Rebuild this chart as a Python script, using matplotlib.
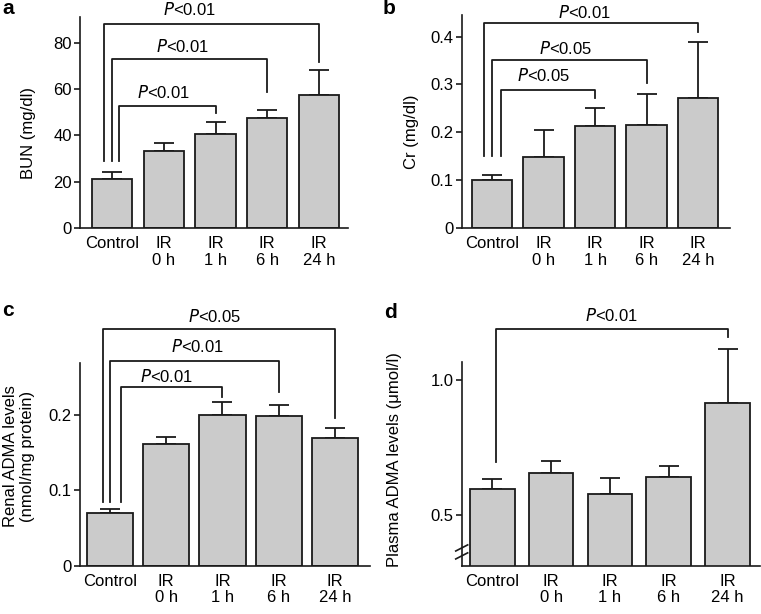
import matplotlib
matplotlib.use('Agg')
import matplotlib.pyplot as plt
import numpy as np

plt.rcParams['font.family'] = ['Liberation Sans', 'DejaVu Sans']
plt.rcParams['font.size'] = 12

W, H = 761, 614

groups = ['Control', 'IR\n0 h', 'IR\n1 h', 'IR\n6 h', 'IR\n24 h']

bun = [21, 33, 40.5, 47.5, 57.5]
bun_err = [3, 3.5, 5, 3.5, 10.5]

cr = [0.100, 0.148, 0.214, 0.215, 0.271]
cr_err = [0.011, 0.057, 0.037, 0.065, 0.118]

renal_adma = [0.070, 0.161, 0.200, 0.198, 0.169]
renal_adma_err = [0.005, 0.009, 0.017, 0.015, 0.013]

plasma_adma = [0.595, 0.655, 0.576, 0.640, 0.916]
plasma_adma_err = [0.037, 0.046, 0.062, 0.043, 0.198]

# significance labels: (target bar, text)
sig_a = [(2, 'P<0.01'), (3, 'P<0.01'), (4, 'P<0.01')]
sig_b = [(2, 'P<0.05'), (3, 'P<0.05'), (4, 'P<0.01')]
sig_c = [(2, 'P<0.01'), (3, 'P<0.01'), (4, 'P<0.05')]
sig_d = [(4, 'P<0.01')]

BAR = '#cbcbcb'
INK = '#1a1a1a'

fig = plt.figure(figsize=(W / 100, H / 100), dpi=100)


def make_axes(left, right, top, bottom):
    # pixel box -> figure fraction
    return fig.add_axes([left / W, 1 - bottom / H, (right - left) / W, (bottom - top) / H])


def draw_panel(ax, vals, errs, xlim, ylim, yticks, ylabels, width=0.78):
    x = np.arange(len(groups))
    ax.bar(x, vals, width=width, color=BAR, edgecolor=INK, linewidth=1.3, zorder=2)
    eb = ax.errorbar(x, vals, yerr=[np.zeros(len(vals)), errs], fmt='none', ecolor=INK,
                     elinewidth=1.3, capsize=7, capthick=1.3, zorder=1)
    for part in eb.get_children():
        part.set_clip_on(False)
    ax.set_xlim(*xlim)
    ax.set_ylim(*ylim)
    ax.set_xticks(x)
    ax.set_xticklabels(groups, linespacing=1.1)
    ax.set_yticks(yticks)
    ax.set_yticklabels(ylabels)
    for s in ['top', 'right']:
        ax.spines[s].set_visible(False)
    for s in ['left', 'bottom']:
        ax.spines[s].set_linewidth(1.2)
        ax.spines[s].set_color(INK)
    ax.tick_params(axis='x', length=0, pad=6, labelsize=12)
    ax.tick_params(axis='y', length=4, width=1.2, pad=2, labelsize=12, color=INK)


def bracket(ax, xl, xr, ytop, ybl, ybr, label, tx, ty):
    ax.plot([xl, xl, xr, xr], [ybl, ytop, ytop, ybr], color=INK, lw=1.3, clip_on=False, zorder=3)
    ax.text(tx, ty, label, ha='center', va='center', fontsize=12, clip_on=False)


def p_text(s):
    return r'$\it{P}$' + s[1:]


# panel a
ax_a = make_axes(80, 348, 17, 228)
draw_panel(ax_a, bun, bun_err, (-0.62, 4.56), (0, 91), [0, 20, 40, 60, 80],
           ['0', '20', '40', '60', '80'])
a_geo = [(0.135, 52.6, 49.4, 1.0, 58.6), (0.0, 73.1, 58.8, 1.37, 78.1), (-0.155, 87.8, 71.7, 1.49, 94.3)]
for (t, lab), (dx, yt, ybr, tx, ty) in zip(sig_a, a_geo):
    bracket(ax_a, dx, t, yt, 28.9, ybr, p_text(lab), tx, ty)

# panel b
ax_b = make_axes(461.7, 730, 15, 228)
draw_panel(ax_b, cr, cr_err, (-0.59, 4.62), (0, 0.445), [0, 0.1, 0.2, 0.3, 0.4],
           ['0', '0.1', '0.2', '0.3', '0.4'])
b_geo = [(0.17, 0.289, 0.272, 1.01, 0.319), (0.0, 0.352, 0.303, 1.42, 0.375), (-0.15, 0.428, 0.41, 1.79, 0.451)]
for (t, lab), (dx, yt, ybr, tx, ty) in zip(sig_b, b_geo):
    bracket(ax_b, dx, t, yt, 0.151, ybr, p_text(lab), tx, ty)

# panel c
ax_c = make_axes(80, 370, 363.3, 565.7)
draw_panel(ax_c, renal_adma, renal_adma_err, (-0.53, 4.62), (0, 0.268), [0, 0.1, 0.2],
           ['0', '0.1', '0.2'], width=0.82)
c_geo = [(0.19, 0.236, 0.224, 1.0, 0.25), (0.01, 0.271, 0.23, 1.56, 0.29), (-0.13, 0.314, 0.195, 1.87, 0.33)]
for (t, lab), (dx, yt, ybr, tx, ty) in zip(sig_c, c_geo):
    bracket(ax_c, dx, t, yt, 0.084, ybr, p_text(lab), tx, ty)

# panel d
ax_d = make_axes(461.7, 760, 361.7, 565.7)
draw_panel(ax_d, plasma_adma, plasma_adma_err, (-0.52, 4.55), (0.312, 1.068), [0.5, 1.0],
           ['0.5', '1.0'], width=0.76)
for (t, lab) in sig_d:
    bracket(ax_d, 0.07, t, 1.191, 0.697, 1.16, p_text(lab), 2.02, 1.24)
# axis break marks
for yb in [0.048, 0.087]:
    ax_d.plot([-0.02, 0.02], [yb - 0.015, yb + 0.015], transform=ax_d.transAxes,
              color=INK, lw=1.2, clip_on=False)


# y labels
def ylab(px, py, s):
    fig.text(px / W, 1 - py / H, s, rotation=90, ha='center', va='center', fontsize=12,
             linespacing=1.15)


ylab(28, 133, 'BUN (mg/dl)')
ylab(411.7, 132, 'Cr (mg/dl)')
ylab(19, 456, 'Renal ADMA levels\n(nmol/mg protein)')
ylab(395, 460, 'Plasma ADMA levels (\u03bcmol/l)')

# panel letters
for px, py, s in [(2, 9, 'a'), (383, 8, 'b'), (2, 310, 'c'), (384, 313, 'd')]:
    fig.text(px / W, 1 - py / H, s, ha='left', va='center', fontsize=15, fontweight='bold')

fig.savefig('out.png', dpi=100)
